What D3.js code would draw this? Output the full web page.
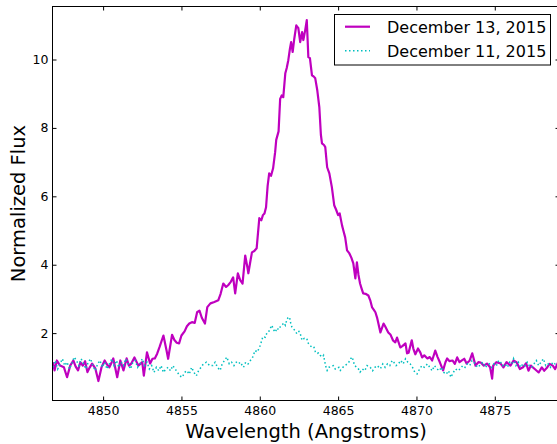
<!DOCTYPE html>
<html><head><meta charset="utf-8">
<script src="https://cdn.jsdelivr.net/npm/d3@7"></script>
<style>body{margin:0;background:#fff}svg{display:block;font-family:"DejaVu Sans",sans-serif}</style>
</head><body><svg id="c" width="557" height="444"></svg>
<script>
const xTicks = [4850, 4855, 4860, 4865, 4870, 4875];
const yTicks = [2, 4, 6, 8, 10];
const seriesNames = ["December 13, 2015", "December 11, 2015"];

const wl13 = [4846.80,4846.90,4847.05,4847.25,4847.50,4847.70,4847.90,4848.10,4848.25,4848.40,4848.55,4848.70,4848.85,4849.00,4849.15,4849.30,4849.50,4849.70,4849.90,4850.10,4850.25,4850.40,4850.55,4850.65,4850.90,4851.10,4851.30,4851.50,4851.65,4851.80,4852.00,4852.25,4852.50,4852.60,4852.80,4853.00,4853.15,4853.30,4853.45,4853.60,4853.85,4854.05,4854.15,4854.40,4854.55,4854.70,4854.85,4855.00,4855.20,4855.35,4855.50,4855.67,4855.85,4856.00,4856.15,4856.30,4856.50,4856.65,4856.85,4857.10,4857.35,4857.50,4857.67,4857.85,4857.98,4858.15,4858.30,4858.43,4858.60,4858.75,4858.90,4859.07,4859.20,4859.27,4859.40,4859.50,4859.65,4859.80,4859.97,4860.10,4860.20,4860.30,4860.40,4860.50,4860.60,4860.72,4860.85,4860.98,4861.05,4861.20,4861.30,4861.40,4861.50,4861.63,4861.72,4861.82,4861.92,4862.00,4862.10,4862.20,4862.33,4862.40,4862.46,4862.58,4862.70,4862.78,4862.90,4863.00,4863.10,4863.20,4863.33,4863.45,4863.54,4863.67,4863.80,4863.90,4863.97,4864.10,4864.18,4864.30,4864.44,4864.60,4864.75,4864.88,4865.00,4865.10,4865.25,4865.33,4865.45,4865.57,4865.72,4865.85,4865.97,4866.10,4866.20,4866.30,4866.40,4866.50,4866.60,4866.75,4866.93,4867.05,4867.17,4867.28,4867.38,4867.50,4867.70,4867.90,4868.00,4868.20,4868.35,4868.50,4868.65,4868.76,4868.97,4869.10,4869.30,4869.40,4869.50,4869.70,4869.80,4869.93,4870.10,4870.25,4870.36,4870.50,4870.70,4870.85,4871.00,4871.20,4871.35,4871.50,4871.70,4871.85,4871.96,4872.10,4872.30,4872.45,4872.60,4872.75,4872.90,4873.05,4873.20,4873.40,4873.56,4873.77,4873.95,4874.10,4874.30,4874.50,4874.70,4874.83,4874.90,4875.10,4875.37,4875.55,4875.75,4876.00,4876.20,4876.40,4876.60,4876.80,4877.00,4877.15,4877.30,4877.55,4877.80,4878.00,4878.15,4878.30,4878.50,4878.70,4878.85,4879.00,4879.13];
const flux13 = [1.15,0.91,1.20,1.05,1.00,0.71,1.05,1.20,1.02,0.91,1.15,1.05,1.18,0.86,1.00,1.11,0.97,0.60,1.00,1.20,1.08,1.00,1.15,1.26,0.71,1.20,0.91,1.26,1.05,1.11,1.29,1.05,1.15,0.76,1.44,1.11,1.25,1.26,1.40,1.59,1.93,1.49,1.25,1.95,1.80,1.72,1.70,1.93,2.05,2.20,2.28,2.32,2.30,2.61,2.66,2.45,2.28,2.76,2.87,2.91,2.96,3.15,3.45,3.35,3.40,3.50,3.63,3.16,3.75,3.55,3.45,4.27,3.95,3.75,4.10,4.36,4.40,4.48,5.36,5.30,5.45,5.50,5.68,6.30,6.67,6.60,6.82,7.29,7.65,7.90,8.85,8.95,8.90,9.60,9.75,9.98,10.30,10.51,10.22,10.60,11.00,10.95,10.92,10.51,10.80,10.57,10.86,11.15,10.07,10.04,9.54,9.50,9.45,9.10,8.61,7.80,7.55,7.50,7.44,6.85,6.67,6.27,5.74,5.60,5.45,5.50,5.15,5.01,4.80,4.42,4.33,4.20,4.04,3.60,4.07,3.70,3.45,3.30,3.16,3.15,3.10,2.96,2.75,2.68,2.61,2.43,2.02,2.28,2.20,2.02,1.95,1.79,1.73,1.87,1.58,1.62,1.70,1.41,1.43,1.79,1.55,1.38,1.55,1.43,1.29,1.35,1.26,1.30,1.20,1.49,1.30,1.14,0.91,1.15,1.26,1.18,1.20,1.10,1.29,1.15,1.20,1.25,1.11,1.20,1.41,1.05,1.15,1.14,1.05,1.11,1.00,0.67,1.05,1.15,1.11,1.00,1.15,1.05,1.20,1.14,0.95,1.00,1.12,0.90,1.05,0.95,0.85,1.00,0.90,0.97,1.10,1.05,0.95,1.11,1.10];

const wl11 = [4846.80,4846.95,4847.10,4847.25,4847.40,4847.55,4847.70,4847.85,4848.00,4848.15,4848.30,4848.45,4848.60,4848.75,4848.90,4849.05,4849.20,4849.35,4849.50,4849.65,4849.80,4849.95,4850.10,4850.25,4850.40,4850.55,4850.70,4850.85,4851.00,4851.15,4851.30,4851.45,4851.60,4851.75,4851.90,4852.05,4852.20,4852.35,4852.50,4852.65,4852.80,4852.95,4853.10,4853.25,4853.40,4853.55,4853.70,4853.85,4854.00,4854.15,4854.30,4854.45,4854.60,4854.75,4854.90,4855.05,4855.20,4855.35,4855.50,4855.65,4855.80,4855.95,4856.10,4856.25,4856.40,4856.60,4856.80,4857.00,4857.15,4857.30,4857.47,4857.60,4857.75,4857.90,4858.05,4858.20,4858.35,4858.50,4858.65,4858.75,4858.96,4859.10,4859.25,4859.40,4859.55,4859.70,4859.85,4860.03,4860.20,4860.35,4860.45,4860.56,4860.67,4860.77,4860.88,4860.99,4861.10,4861.20,4861.30,4861.45,4861.55,4861.63,4861.72,4861.80,4861.90,4861.97,4862.05,4862.20,4862.37,4862.50,4862.58,4862.70,4862.85,4863.00,4863.10,4863.20,4863.33,4863.45,4863.55,4863.65,4863.75,4863.86,4864.00,4864.07,4864.20,4864.30,4864.40,4864.55,4864.70,4864.82,4864.93,4865.05,4865.14,4865.30,4865.45,4865.57,4865.68,4865.80,4865.90,4866.05,4866.20,4866.30,4866.40,4866.55,4866.70,4866.85,4867.05,4867.20,4867.35,4867.50,4867.70,4867.85,4868.00,4868.15,4868.30,4868.45,4868.55,4868.70,4868.85,4869.00,4869.15,4869.30,4869.45,4869.60,4869.75,4869.90,4870.04,4870.20,4870.35,4870.50,4870.70,4870.85,4871.00,4871.15,4871.30,4871.45,4871.60,4871.75,4871.90,4872.05,4872.20,4872.35,4872.50,4872.65,4872.80,4872.95,4873.10,4873.25,4873.40,4873.55,4873.67,4873.80,4873.95,4874.10,4874.25,4874.40,4874.50,4874.65,4874.80,4874.95,4875.10,4875.25,4875.37,4875.50,4875.65,4875.80,4875.95,4876.10,4876.20,4876.35,4876.50,4876.65,4876.80,4876.95,4877.07,4877.20,4877.35,4877.50,4877.65,4877.80,4877.95,4878.10,4878.25,4878.40,4878.55,4878.70,4878.85,4879.00,4879.13];
const flux11 = [1.00,1.20,0.95,1.10,1.25,1.05,1.15,0.95,1.10,1.30,1.20,1.05,1.25,1.10,0.95,1.15,1.25,1.05,0.90,1.10,1.20,1.00,1.15,0.95,1.10,1.25,1.05,1.20,1.00,1.15,1.05,1.25,1.10,0.95,1.15,1.20,1.00,1.10,1.25,1.05,1.15,0.95,1.05,0.85,1.00,0.90,1.05,0.85,0.95,1.00,0.90,1.05,0.95,0.85,0.75,0.71,0.85,0.90,0.80,1.00,0.85,0.75,0.91,1.00,1.10,1.15,1.05,1.05,1.15,1.00,0.91,1.10,1.20,1.30,1.10,1.15,1.05,1.15,1.10,1.15,1.00,1.15,1.10,1.20,1.30,1.49,1.45,1.64,1.90,1.88,2.00,2.03,2.14,2.23,2.10,2.03,2.15,2.10,2.18,2.25,2.30,2.23,2.38,2.45,2.47,2.30,2.18,2.10,1.98,2.05,1.99,1.79,1.85,1.84,1.70,1.64,1.59,1.60,1.45,1.40,1.42,1.35,1.30,1.35,1.05,0.91,1.00,1.02,1.05,0.95,0.96,1.00,0.91,1.00,1.05,1.10,1.15,1.25,1.30,1.05,1.00,0.95,0.86,0.95,0.90,1.05,1.00,0.90,1.00,1.05,0.96,1.10,1.00,1.10,1.05,1.20,1.15,1.05,1.10,1.20,1.10,1.25,1.15,1.10,1.00,0.85,0.81,0.95,1.05,1.00,1.10,1.00,0.90,1.05,0.96,0.90,1.00,0.85,0.80,0.90,0.71,0.85,0.95,0.90,0.96,1.05,1.00,1.10,1.05,1.20,1.15,1.05,1.00,1.10,1.15,1.00,1.05,1.10,1.00,1.10,1.05,1.20,1.15,1.05,1.10,1.00,1.15,1.10,1.25,1.05,1.15,1.00,1.10,1.05,1.15,1.05,1.00,1.10,1.20,1.05,1.15,1.25,1.05,1.10,1.00,1.15,1.10,1.15,1.05];

const colors = ["#bf00bf", "#00bfbf"];

const svg = d3.select("#c");
const L = 52.5, T = 6.5, R = 559.5, B = 400.5;
const x = d3.scaleLinear().domain([4846.77, 4879.13]).range([L, R]);
const y = d3.scaleLinear().domain([0.03, 11.55]).range([B, T]);

svg.append("defs").append("clipPath").attr("id","pc")
  .append("rect").attr("x",L).attr("y",T).attr("width",R-L).attr("height",B-T);

const line = d3.line().x(d => x(d[0])).y(d => y(d[1]));
const d13 = wl13.map((w,i) => [w, flux13[i]]);
const d11 = wl11.map((w,i) => [w, flux11[i]]);
const g = svg.append("g").attr("clip-path","url(#pc)");
g.append("path").datum(d13).attr("d", line).attr("fill","none")
  .attr("stroke", colors[0]).attr("stroke-width", 2.2).attr("stroke-linejoin","round");
g.append("path").datum(d11).attr("d", line).attr("fill","none")
  .attr("stroke", colors[1]).attr("stroke-width", 1.5).attr("stroke-dasharray","1.5,2.5");

// frame
svg.append("rect").attr("x",L).attr("y",T).attr("width",R-L).attr("height",B-T)
  .attr("fill","none").attr("stroke","#000").attr("stroke-width",1);

function styleAxis(sel){
  sel.select(".domain").remove();
  sel.selectAll(".tick line").attr("stroke","#000");
  sel.selectAll(".tick text").attr("fill","#000").style("font-size","12.5px").style("font-family","DejaVu Sans");
}
svg.append("g").attr("transform",`translate(0,${B})`)
  .call(d3.axisBottom(x).tickValues(xTicks).tickFormat(d3.format("d")).tickSizeInner(-4).tickSizeOuter(0).tickPadding(6))
  .call(styleAxis);
svg.append("g").attr("transform",`translate(0,${T})`)
  .call(d3.axisTop(x).tickValues(xTicks).tickFormat("").tickSizeInner(-4).tickSizeOuter(0))
  .call(styleAxis);
svg.append("g").attr("transform",`translate(${L},0)`)
  .call(d3.axisLeft(y).tickValues(yTicks).tickFormat(d3.format("d")).tickSizeInner(-4).tickSizeOuter(0).tickPadding(4))
  .call(styleAxis);
svg.append("g").attr("transform",`translate(${R},0)`)
  .call(d3.axisRight(y).tickValues(yTicks).tickFormat("").tickSizeInner(-4).tickSizeOuter(0))
  .call(styleAxis);

// axis labels
svg.append("text").attr("x", (L+R)/2).attr("y", 437.5).attr("text-anchor","middle")
  .style("font-size","19.5px").text("Wavelength (Angstroms)");
svg.append("text").attr("transform", `translate(25,${(T+B)/2}) rotate(-90)`).attr("text-anchor","middle")
  .style("font-size","19.5px").text("Normalized Flux");

// legend
const lg = svg.append("g");
lg.append("rect").attr("x",334.5).attr("y",14.5).attr("width",216).attr("height",50.5)
  .attr("fill","#fff").attr("stroke","#000").attr("stroke-width",1);
const ly = [26.7, 50.7];
seriesNames.forEach((n,i) => {
  const s = lg.append("line").attr("x1",345).attr("x2",370).attr("y1",ly[i]).attr("y2",ly[i])
    .attr("stroke",colors[i]).attr("stroke-width", i===0 ? 2.2 : 1.5);
  if (i===1) s.attr("stroke-dasharray","1.5,2.5");
  lg.append("text").attr("x",387).attr("y",ly[i]+6).style("font-size","16px").attr("fill","#000").text(n);
});
</script></body></html>
